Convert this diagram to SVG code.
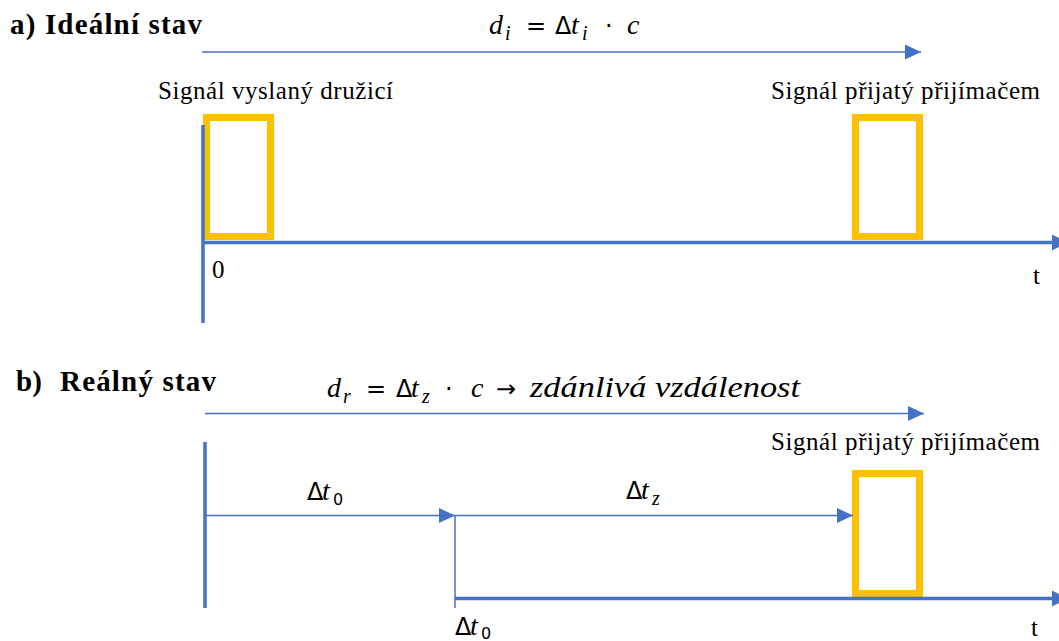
<svg xmlns="http://www.w3.org/2000/svg" width="1059" height="641" viewBox="0 0 1059 641">
<defs>
<style>
.lbl{font-family:'Liberation Serif','DejaVu Serif',serif;font-size:25px;fill:#000}
.ttl{font-family:'Liberation Serif','DejaVu Serif',serif;font-size:29px;font-weight:bold;fill:#000}
.m{font-family:'Liberation Serif','DejaVu Serif',serif;font-size:28px;font-style:italic;fill:#000}
.mu{font-family:'DejaVu Sans',sans-serif;font-size:24px;fill:#000}
.ms{font-family:'Liberation Serif','DejaVu Serif',serif;font-size:20px;font-style:italic;fill:#000}
.msu{font-family:'DejaVu Sans',sans-serif;font-size:16px;fill:#000}
.pulse{fill:none;stroke:#FFC000;stroke-width:7}
.axis{stroke:#4472C4;stroke-width:3.5;fill:none}
.thin{stroke:#4472C4;stroke-width:1.5;fill:none}
.head{fill:#4472C4}
</style>
<marker id="ah" markerUnits="userSpaceOnUse" markerWidth="16" markerHeight="16" refX="16" refY="7.5" orient="auto">
<path d="M0,0 L16,7.5 L0,15 z" fill="#4472C4"/>
</marker>
</defs>
<rect width="1059" height="641" fill="#fff"/>

<g id="title-a"><text class="ttl" x="10" y="34" textLength="192">a) Ideální stav</text></g>
<g id="formula-a">
<text class="m" x="489" y="34">d</text><text class="ms" x="505" y="40">i</text>
<text class="mu" x="526" y="34">=</text>
<text class="mu" x="555" y="34">Δ</text><text class="m" x="571" y="34">t</text><text class="ms" x="582" y="40">i</text>
<text class="mu" x="605" y="34">·</text>
<text class="m" x="627" y="34">c</text>
</g>
<g id="label-sent"><text class="lbl" x="158" y="99" textLength="235">Signál vyslaný družicí</text></g>
<g id="label-recv-a"><text class="lbl" x="771" y="99" textLength="269">Signál přijatý přijímačem</text></g>
<g id="pulse-a1"><rect class="pulse" x="206.5" y="117.5" width="64" height="119"/></g>
<g id="pulse-a2"><rect class="pulse" x="855.5" y="117.5" width="64" height="119"/></g>
<g id="zero"><text class="lbl" x="212" y="278">0</text></g>
<g id="t-a"><text class="lbl" x="1033" y="284">t</text></g>

<g id="title-b"><text class="ttl" x="16" y="391">b)</text><text class="ttl" x="60" y="391" textLength="156">Reálný stav</text></g>
<g id="formula-b">
<text class="m" x="327" y="397">d</text><text class="ms" x="343" y="403">r</text>
<text class="mu" x="366" y="397">=</text>
<text class="mu" x="396" y="397">Δ</text><text class="m" x="411" y="397">t</text><text class="ms" x="422" y="403">z</text>
<text class="mu" x="445" y="397">·</text>
<text class="m" x="471" y="397">c</text>
<text class="mu" x="496" y="397">→</text>
<text class="m" x="530" y="397" style="font-size:30px" textLength="270" lengthAdjust="spacingAndGlyphs">zdánlivá vzdálenost</text>
</g>
<g id="label-recv-b"><text class="lbl" x="771" y="450" textLength="269">Signál přijatý přijímačem</text></g>
<g id="pulse-b"><rect class="pulse" x="855.5" y="473.5" width="64" height="120"/></g>
<g id="label-dt0">
<text class="mu" x="307" y="500">Δ</text><text class="m" x="322" y="500">t</text><text class="msu" x="333" y="505">0</text>
</g>
<g id="label-dtz">
<text class="mu" x="626" y="499">Δ</text><text class="m" x="641" y="499">t</text><text class="ms" x="652" y="505">z</text>
</g>
<g id="label-dt0-axis">
<text class="mu" x="455" y="635">Δ</text><text class="m" x="470" y="635">t</text><text class="msu" x="481" y="639">0</text>
</g>
<g id="t-b"><text class="lbl" x="1031" y="636">t</text></g>

<g id="connectors">
<line class="thin" x1="202" y1="52" x2="921" y2="52" marker-end="url(#ah)"/>
<line class="axis" x1="203" y1="125" x2="203" y2="323"/>
<line class="axis" x1="203" y1="242.5" x2="1054" y2="242.5"/>
<polygon class="head" points="1052,234.5 1068,242.5 1052,250.5"/>
<line class="thin" x1="205" y1="413.5" x2="924" y2="413.5" marker-end="url(#ah)"/>
<line class="axis" x1="205" y1="442" x2="205" y2="608"/>
<line class="thin" x1="205" y1="515.5" x2="455" y2="515.5" marker-end="url(#ah)"/>
<line class="thin" x1="455" y1="515.5" x2="455" y2="608"/>
<line class="thin" x1="455" y1="515.5" x2="853" y2="515.5" marker-end="url(#ah)"/>
<line class="axis" x1="455" y1="598.5" x2="1054" y2="598.5"/>
<polygon class="head" points="1052,590.5 1068,598.5 1052,606.5"/>
</g>
</svg>
